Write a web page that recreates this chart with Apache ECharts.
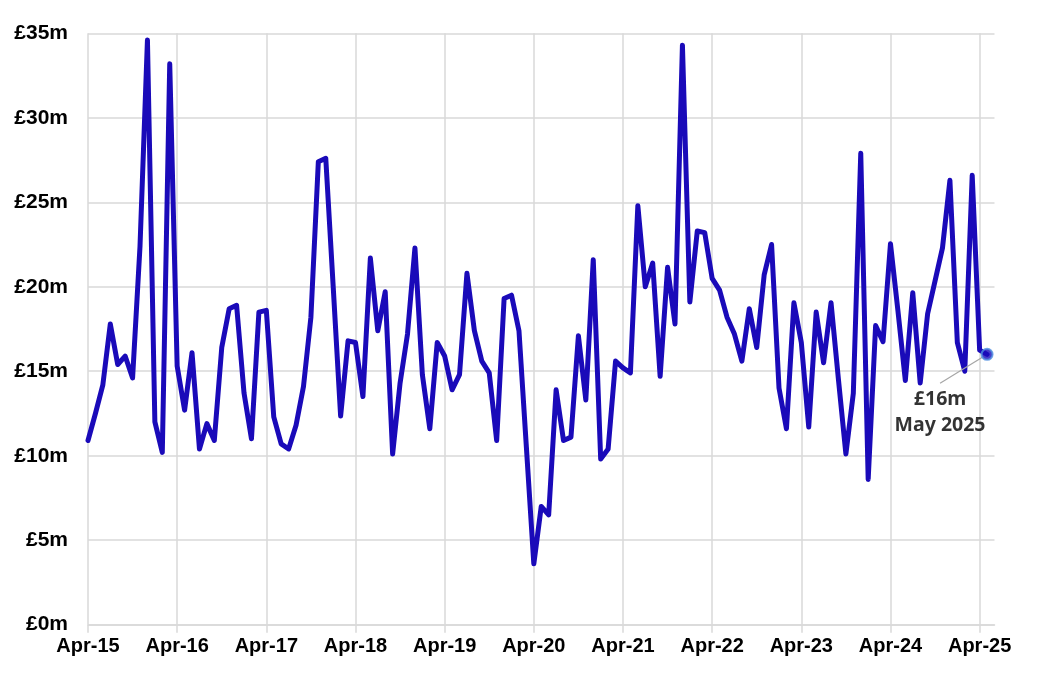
<!DOCTYPE html>
<html>
<head>
<meta charset="utf-8">
<script src="https://cdn.jsdelivr.net/npm/echarts@6/dist/echarts.min.js"></script>
<style>html,body{margin:0;padding:0;background:#fff;}#c{width:1042px;height:681px;}</style>
</head>
<body>
<div id="c"></div>
<script>
// Month names used to build the category list (Apr-15 .. Jun-25)
const monthNames = ['Jan','Feb','Mar','Apr','May','Jun','Jul','Aug','Sep','Oct','Nov','Dec'];
const startYear = 2015, startMonth = 3, categoryCount = 123;
// Tick labels shown on the x axis (every April)
const tickLabels = ['Apr-15','Apr-16','Apr-17','Apr-18','Apr-19','Apr-20','Apr-21','Apr-22','Apr-23','Apr-24','Apr-25'];
const yTicks = [0,5,10,15,20,25,30,35];
// Monthly values, £m, Apr 2015 .. May 2025
const values = [
  10.9,12.5,14.2,17.8,15.4,15.9,14.6,22.4,34.6,12.0,10.2,33.2,
  15.3,12.7,16.1,10.4,11.9,10.9,16.4,18.7,18.9,13.7,11.0,18.5,
  18.6,12.3,10.7,10.4,11.8,14.1,18.2,27.4,27.6,20.0,12.35,16.8,
  16.7,13.5,21.7,17.4,19.7,10.1,14.3,17.2,22.3,14.8,11.6,16.7,
  15.9,13.9,14.8,20.8,17.4,15.6,14.9,10.9,19.3,19.5,17.4,10.5,
  3.6,7.0,6.5,13.9,10.9,11.1,17.1,13.3,21.6,9.8,10.4,15.6,
  15.2,14.9,24.8,20.0,21.4,14.7,21.15,17.8,34.3,19.1,23.3,23.2,
  20.5,19.8,18.2,17.2,15.6,18.7,16.4,20.7,22.5,14.0,11.6,19.05,
  16.7,11.7,18.5,15.5,19.05,14.5,10.1,13.7,27.9,8.6,17.7,16.75,
  22.55,18.6,14.45,19.65,14.3,18.4,20.35,22.3,26.3,16.7,15.0,26.6,
  16.25,16.0
];
const annotationText = ['£16m', 'May 2025'];

const categories = [];
for (let i = 0; i < categoryCount; i++) {
  const m = (startMonth + i) % 12;
  const y = startYear + Math.floor((startMonth + i) / 12);
  categories.push(monthNames[m] + '-' + String(y).slice(2));
}
const lastIdx = values.length - 1;

const chart = echarts.init(document.getElementById('c'));
const grey = '#d9d9d9';
const font = "'Liberation Sans', Arial, sans-serif";
chart.setOption({
  animation: false,
  grid: { left: 88, right: 47.5, top: 33.3, bottom: 56.3, containLabel: false },
  xAxis: {
    type: 'category',
    data: categories,
    boundaryGap: false,
    axisLine: { show: true, lineStyle: { color: grey, width: 1.5 } },
    axisTick: { show: true, interval: 11, length: 8, lineStyle: { color: grey, width: 1.5 } },
    splitLine: { show: true, interval: 11, lineStyle: { color: grey, width: 1.5 } },
    axisLabel: {
      interval: 11, margin: 12,
      color: '#000', fontWeight: 'bold', fontSize: 20, fontFamily: font,
      formatter: function (v, idx) { return tickLabels[idx / 12] || ''; }
    }
  },
  yAxis: {
    type: 'value', min: yTicks[0], max: yTicks[yTicks.length - 1], interval: 5,
    axisLine: { show: false }, axisTick: { show: false },
    splitLine: { show: true, lineStyle: { color: grey, width: 1.5 } },
    axisLabel: {
      margin: 20, color: '#000', fontWeight: 'bold', fontSize: 21, fontFamily: font,
      formatter: '£{value}m'
    }
  },
  series: [
    {
      type: 'line', data: values, showSymbol: false, symbol: 'none',
      lineStyle: { color: '#1a0ab9', width: 5, join: 'round', cap: 'round' },
      z: 2
    },
    {
      type: 'scatter',
      data: [[lastIdx, values[lastIdx]]],
      symbolSize: 11,
      itemStyle: { color: '#1a0ab9', borderColor: '#4f8fe0', borderWidth: 2 },
      z: 3,
      label: {
        show: true, position: 'inside',
        formatter: annotationText.join('\n'),
        color: '#000', fontWeight: 700, fontSize: 19.5, lineHeight: 26,
        textBorderWidth: 0, textShadowBlur: 0,
        padding: [6, 30, 0, 30],
        fontFamily: "'Noto Sans', 'Open Sans', sans-serif"
      },
      labelLayout: { dx: -47, dy: 58 },
      labelLine: { show: true, lineStyle: { color: '#a6a6a6', width: 1.2 } }
    }
  ]
});
</script>
</body>
</html>
